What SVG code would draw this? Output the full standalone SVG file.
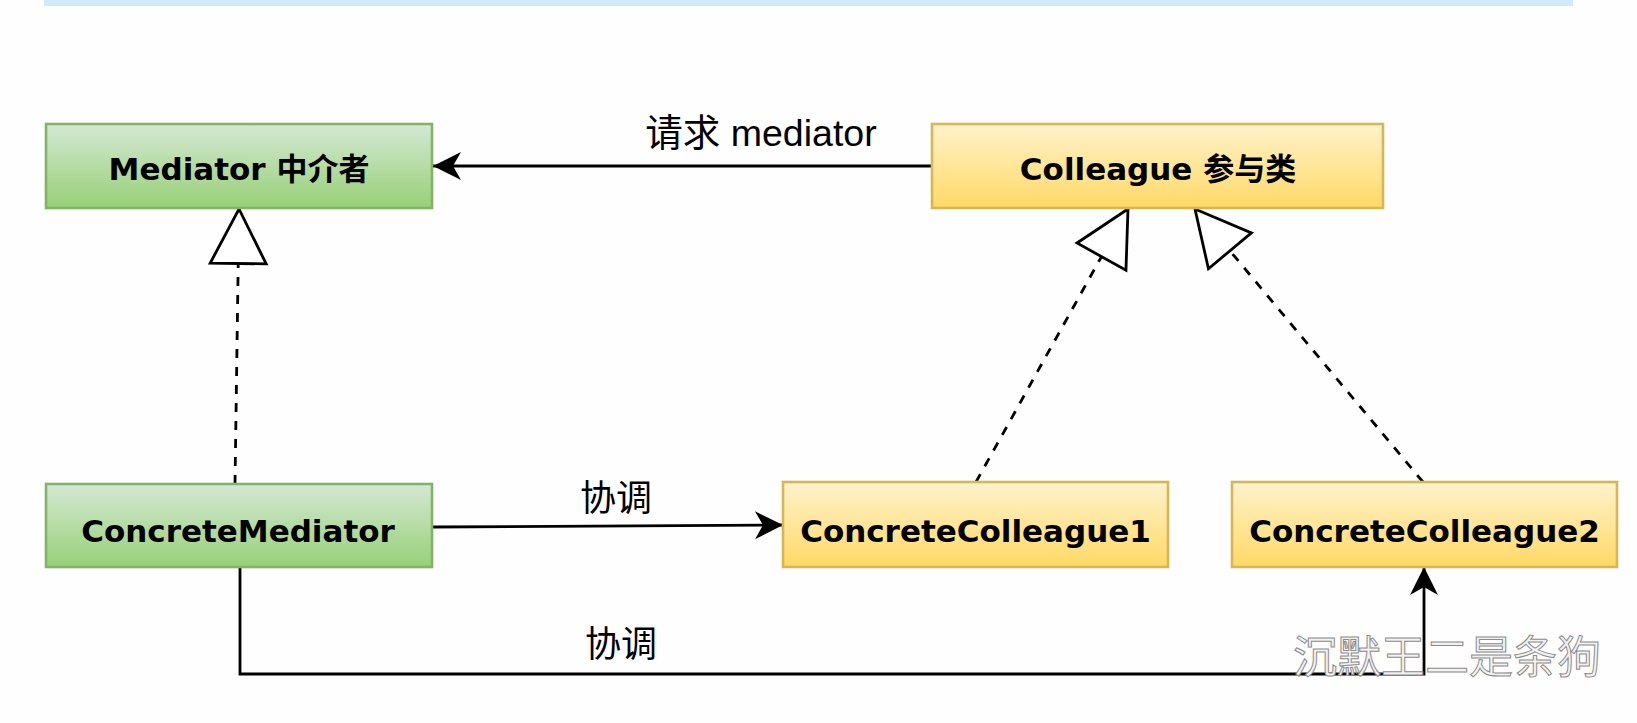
<svg xmlns="http://www.w3.org/2000/svg" width="1637" height="723" viewBox="0 0 1637 723">
<style>
.node-g rect{stroke-width:2.6}
.green{fill:url(#gGreen);stroke:#82b366}
.yellow{fill:url(#gYellow);stroke:#d6b656}
.nt{font-family:"DejaVu Sans","Noto Sans CJK SC",sans-serif;font-weight:bold;font-size:31px;fill:#000;text-anchor:middle}
.lbl{font-family:"Liberation Sans","Noto Sans CJK SC",sans-serif;font-size:36px;fill:#000;text-anchor:middle}
.edge{fill:none;stroke:#000;stroke-width:2.8}
.dash{stroke-dasharray:9 9}
.wm{font-family:"Noto Sans CJK SC",sans-serif;font-size:44px;fill:#f2f2f2;stroke:#8c8c8c;stroke-width:1}
</style>
<defs>
<linearGradient id="gGreen" x1="0" y1="0" x2="0" y2="1"><stop offset="0" stop-color="#d5e8d4"/><stop offset="1" stop-color="#97d077"/></linearGradient>
<linearGradient id="gYellow" x1="0" y1="0" x2="0" y2="1"><stop offset="0" stop-color="#fff2cc"/><stop offset="1" stop-color="#ffd966"/></linearGradient>
<marker id="arrow" markerUnits="userSpaceOnUse" viewBox="0 0 28 28" refX="28" refY="14" markerWidth="28" markerHeight="28" orient="auto" overflow="visible"><path d="M0,0 L28,14 L0,28 L8,14 Z" fill="#000"/></marker>
<marker id="tri" markerUnits="userSpaceOnUse" viewBox="0 0 56 56" refX="56" refY="28" markerWidth="56" markerHeight="56" orient="auto" overflow="visible"><path d="M1.5,0 L56,28 L1.5,56 Z" fill="#fff" stroke="#000" stroke-width="2.8" stroke-linejoin="miter"/></marker>
</defs>
<rect x="0" y="0" width="1637" height="723" fill="#fefefe"/>
<rect x="44" y="0" width="1529" height="6" fill="#d0eaf7"/>
<g id="connectors">
<path class="edge" d="M932,166 L433,166" marker-end="url(#arrow)"/>
<path class="edge" d="M433,527 L783,525" marker-end="url(#arrow)"/>
<path class="edge" d="M240,565 L240,674 L1424,674 L1424,567" marker-end="url(#arrow)"/>
<path class="edge dash" d="M235,484 L239,209" marker-end="url(#tri)"/>
<path class="edge dash" d="M976,482 L1128,209" marker-end="url(#tri)"/>
<path class="edge dash" d="M1423,482 L1195,209" marker-end="url(#tri)"/>
<text class="lbl" x="761" y="146" style="font-size:37.5px">请求 mediator</text>
<text class="lbl" x="616" y="511">协调</text>
<text class="lbl" x="621" y="657">协调</text>
</g>
<g id="mediator" class="node-g"><rect class="green" x="46" y="124" width="386" height="84"/><text class="nt" x="239" y="180">Mediator 中介者</text></g>
<g id="colleague" class="node-g"><rect class="yellow" x="932" y="124" width="451" height="84"/><text class="nt" x="1158" y="180">Colleague 参与类</text></g>
<g id="concreteMediator" class="node-g"><rect class="green" x="46" y="484" width="386" height="83"/><text class="nt" x="238" y="542">ConcreteMediator</text></g>
<g id="concreteColleague1" class="node-g"><rect class="yellow" x="783" y="482" width="385" height="85"/><text class="nt" x="975.5" y="542">ConcreteColleague1</text></g>
<g id="concreteColleague2" class="node-g"><rect class="yellow" x="1232" y="482" width="385" height="85"/><text class="nt" x="1424.5" y="542">ConcreteColleague2</text></g>
<text class="wm" x="1293" y="673">沉默王二是条狗</text>
</svg>
